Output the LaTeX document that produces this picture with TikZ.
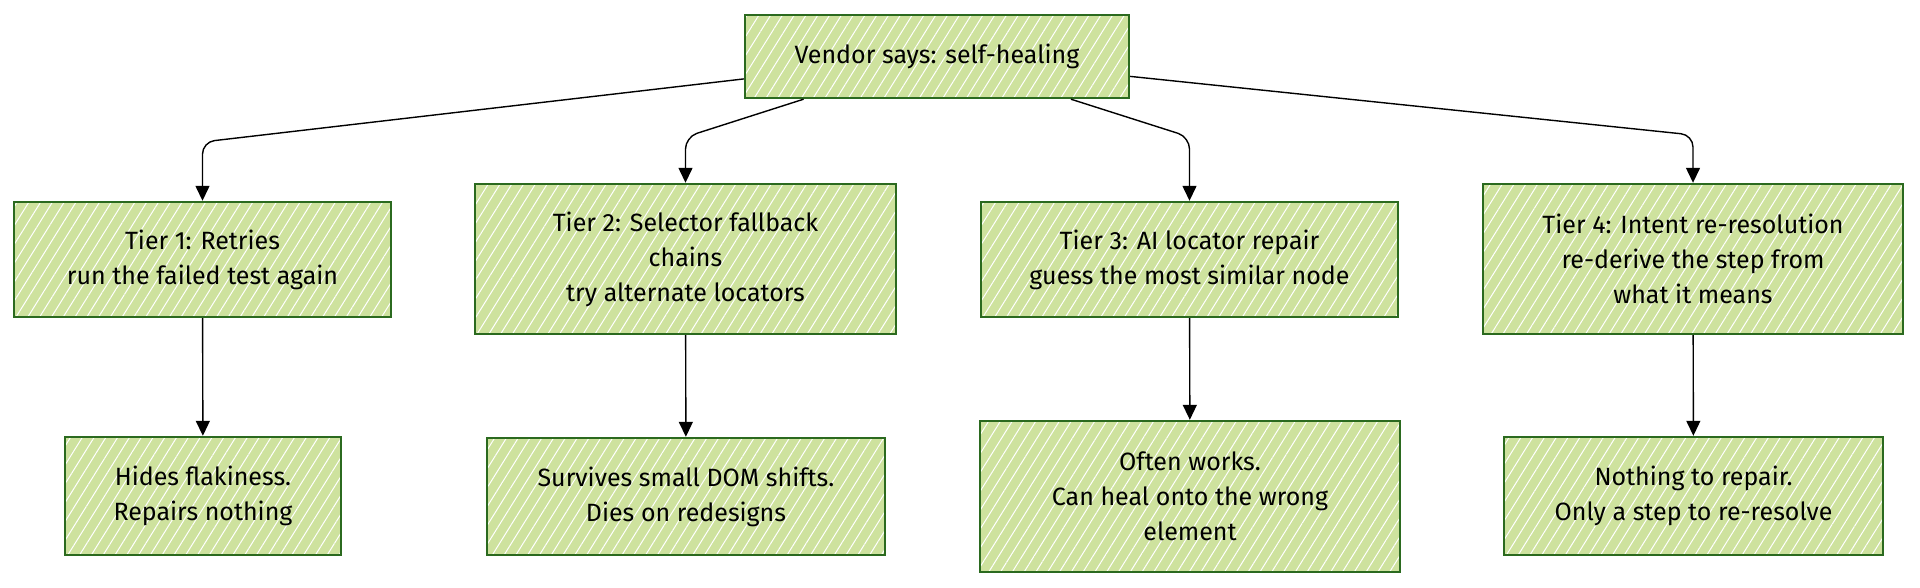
\documentclass[tikz,border=0pt]{standalone}
\usepackage{fontspec}
\setmainfont{Fira Sans}
\usepackage{xcolor}
\usepackage{tikz}
\usetikzlibrary{arrows.meta, positioning, patterns.meta}

\definecolor{leaf}{HTML}{CEE29E}
\definecolor{moss}{HTML}{2B6A1F}

\begin{document}
\begin{tikzpicture}[
	  x=1pt, y=1pt,
	  font=\fontsize{25}{35}\selectfont,
	  box/.style={
	    draw=moss,
	    line width=2.4pt,
	    align=center,
	    inner sep=0pt,
	    preaction={fill=leaf},
	    preaction={pattern={Lines[angle=58, distance=10pt, line width=1pt]}, pattern color=white}
	  },
	  arrow/.style={-{Triangle[width=14pt, length=15pt]}, line width=1.4pt, rounded corners=12pt}
	]
	\useasboundingbox (0,0) rectangle (1920,588);
	
	\node[box, minimum width=384pt, minimum height=83pt] (vendor) at (937,531.5) {Vendor says: self-healing};
	
	\node[box, minimum width=377pt, minimum height=115pt] (retries) at (202.5,328.5) {Tier 1: Retries\\run the failed test again};
	\node[box, minimum width=421pt, minimum height=150pt] (fallback) at (685.5,329) {Tier 2: Selector fallback\\chains\\try alternate locators};
	\node[box, minimum width=417pt, minimum height=115pt] (airepair) at (1189.5,328.5) {Tier 3: AI locator repair\\guess the most similar node};
	\node[box, minimum width=420pt, minimum height=150pt] (intent) at (1693,329) {Tier 4: Intent re-resolution\\re-derive the step from\\what it means};
	
	\node[box, minimum width=276pt, minimum height=118pt] (hides) at (203,92) {Hides flakiness.\\Repairs nothing};
	\node[box, minimum width=398pt, minimum height=117pt] (survives) at (686,91.5) {Survives small DOM shifts.\\Dies on redesigns};
	\node[box, minimum width=420pt, minimum height=151pt] (often) at (1190,91.5) {Often works.\\Can heal onto the wrong\\element};
	\node[box, minimum width=379pt, minimum height=118pt] (nothing) at (1693.5,92) {Nothing to repair.\\Only a step to re-resolve};
	
	\coordinate (retries-bend) at (202.5,446);
	\coordinate (fallback-bend) at (685.5,451);
	\coordinate (airepair-bend) at (1189.5,451);
	\coordinate (intent-bend) at (1693,453);
	
	\draw[arrow] (vendor) -- (retries-bend) -- (retries);
	\draw[arrow] (vendor) -- (fallback-bend) -- (fallback);
	\draw[arrow] (vendor) -- (airepair-bend) -- (airepair);
	\draw[arrow] (vendor) -- (intent-bend) -- (intent);
	
	\draw[arrow] (retries) -- (hides);
	\draw[arrow] (fallback) -- (survives);
	\draw[arrow] (airepair) -- (often);
	\draw[arrow] (intent) -- (nothing);
	
	\end{tikzpicture}
\end{document}
